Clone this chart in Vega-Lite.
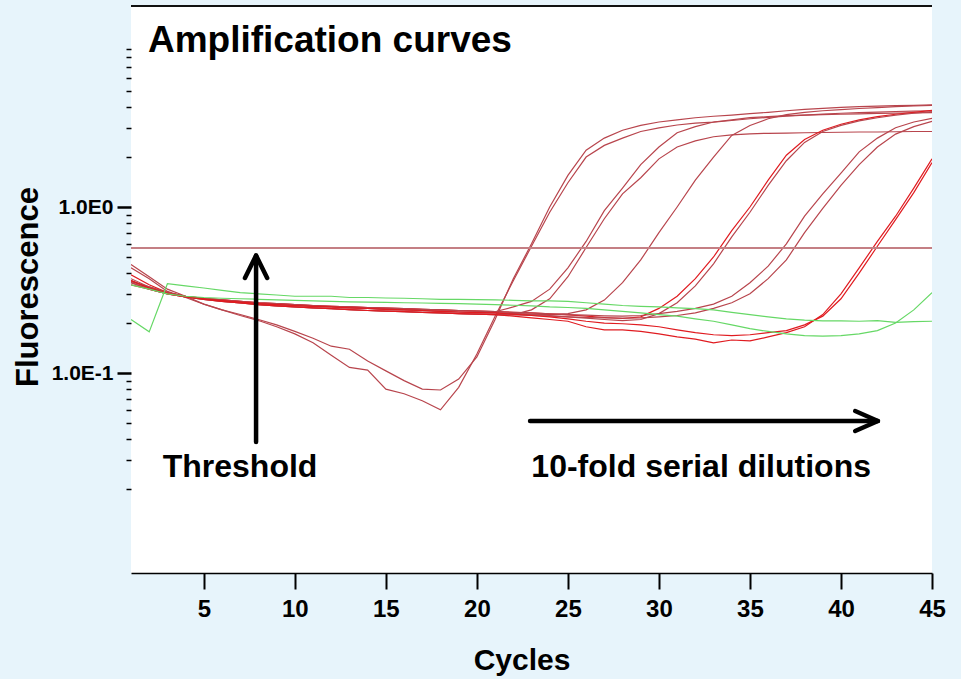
{
"$schema":"https://vega.github.io/schema/vega-lite/v6.json",
"width":801,"height":567,
"autosize":{"type":"none"},
"padding":{"left":131,"top":6,"right":29,"bottom":106},
"background":"#e7f4fb",
"config":{"view":{"fill":"white","stroke":null},"font":"Liberation Sans"},
"datasets":{
"curves":[
{"s":"A1","c":1,"v":0.45},{"s":"A1","c":2,"v":0.38},{"s":"A1","c":3,"v":0.32},{"s":"A1","c":4,"v":0.29},{"s":"A1","c":5,"v":0.26},{"s":"A1","c":6,"v":0.24},{"s":"A1","c":7,"v":0.225},{"s":"A1","c":8,"v":0.21},{"s":"A1","c":9,"v":0.195},{"s":"A1","c":10,"v":0.178},{"s":"A1","c":11,"v":0.162},{"s":"A1","c":12,"v":0.145},{"s":"A1","c":13,"v":0.139},{"s":"A1","c":14,"v":0.118},{"s":"A1","c":15,"v":0.103},{"s":"A1","c":16,"v":0.09},{"s":"A1","c":17,"v":0.08},{"s":"A1","c":18,"v":0.079},{"s":"A1","c":19,"v":0.092},{"s":"A1","c":20,"v":0.125},{"s":"A1","c":21,"v":0.21},{"s":"A1","c":22,"v":0.37},{"s":"A1","c":23,"v":0.6},{"s":"A1","c":24,"v":1.0},{"s":"A1","c":25,"v":1.55},{"s":"A1","c":26,"v":2.2},{"s":"A1","c":27,"v":2.6},{"s":"A1","c":28,"v":2.9},{"s":"A1","c":29,"v":3.1},{"s":"A1","c":30,"v":3.25},{"s":"A1","c":31,"v":3.35},{"s":"A1","c":32,"v":3.45},{"s":"A1","c":33,"v":3.52},{"s":"A1","c":34,"v":3.58},{"s":"A1","c":35,"v":3.65},{"s":"A1","c":36,"v":3.72},{"s":"A1","c":37,"v":3.8},{"s":"A1","c":38,"v":3.87},{"s":"A1","c":39,"v":3.93},{"s":"A1","c":40,"v":3.98},{"s":"A1","c":41,"v":4.02},{"s":"A1","c":42,"v":4.05},{"s":"A1","c":43,"v":4.08},{"s":"A1","c":44,"v":4.1},{"s":"A1","c":45,"v":4.12},
{"s":"A2","c":1,"v":0.43},{"s":"A2","c":2,"v":0.37},{"s":"A2","c":3,"v":0.31},{"s":"A2","c":4,"v":0.285},{"s":"A2","c":5,"v":0.26},{"s":"A2","c":6,"v":0.24},{"s":"A2","c":7,"v":0.222},{"s":"A2","c":8,"v":0.207},{"s":"A2","c":9,"v":0.19},{"s":"A2","c":10,"v":0.172},{"s":"A2","c":11,"v":0.152},{"s":"A2","c":12,"v":0.128},{"s":"A2","c":13,"v":0.108},{"s":"A2","c":14,"v":0.104},{"s":"A2","c":15,"v":0.08},{"s":"A2","c":16,"v":0.075},{"s":"A2","c":17,"v":0.068},{"s":"A2","c":18,"v":0.06},{"s":"A2","c":19,"v":0.082},{"s":"A2","c":20,"v":0.13},{"s":"A2","c":21,"v":0.22},{"s":"A2","c":22,"v":0.36},{"s":"A2","c":23,"v":0.58},{"s":"A2","c":24,"v":0.93},{"s":"A2","c":25,"v":1.4},{"s":"A2","c":26,"v":2.0},{"s":"A2","c":27,"v":2.35},{"s":"A2","c":28,"v":2.6},{"s":"A2","c":29,"v":2.85},{"s":"A2","c":30,"v":3.0},{"s":"A2","c":31,"v":3.12},{"s":"A2","c":32,"v":3.2},{"s":"A2","c":33,"v":3.25},{"s":"A2","c":34,"v":3.32},{"s":"A2","c":35,"v":3.4},{"s":"A2","c":36,"v":3.47},{"s":"A2","c":37,"v":3.53},{"s":"A2","c":38,"v":3.58},{"s":"A2","c":39,"v":3.63},{"s":"A2","c":40,"v":3.67},{"s":"A2","c":41,"v":3.7},{"s":"A2","c":42,"v":3.73},{"s":"A2","c":43,"v":3.76},{"s":"A2","c":44,"v":3.78},{"s":"A2","c":45,"v":3.8},
{"s":"B1","c":1,"v":0.37},{"s":"B1","c":2,"v":0.33},{"s":"B1","c":3,"v":0.305},{"s":"B1","c":4,"v":0.29},{"s":"B1","c":5,"v":0.282},{"s":"B1","c":6,"v":0.276},{"s":"B1","c":7,"v":0.27},{"s":"B1","c":8,"v":0.265},{"s":"B1","c":9,"v":0.262},{"s":"B1","c":10,"v":0.258},{"s":"B1","c":11,"v":0.255},{"s":"B1","c":12,"v":0.252},{"s":"B1","c":13,"v":0.25},{"s":"B1","c":14,"v":0.248},{"s":"B1","c":15,"v":0.246},{"s":"B1","c":16,"v":0.244},{"s":"B1","c":17,"v":0.242},{"s":"B1","c":18,"v":0.24},{"s":"B1","c":19,"v":0.238},{"s":"B1","c":20,"v":0.236},{"s":"B1","c":21,"v":0.234},{"s":"B1","c":22,"v":0.25},{"s":"B1","c":23,"v":0.27},{"s":"B1","c":24,"v":0.32},{"s":"B1","c":25,"v":0.43},{"s":"B1","c":26,"v":0.62},{"s":"B1","c":27,"v":0.95},{"s":"B1","c":28,"v":1.3},{"s":"B1","c":29,"v":1.8},{"s":"B1","c":30,"v":2.3},{"s":"B1","c":31,"v":2.8},{"s":"B1","c":32,"v":3.05},{"s":"B1","c":33,"v":3.25},{"s":"B1","c":34,"v":3.35},{"s":"B1","c":35,"v":3.45},{"s":"B1","c":36,"v":3.5},{"s":"B1","c":37,"v":3.55},{"s":"B1","c":38,"v":3.58},{"s":"B1","c":39,"v":3.6},{"s":"B1","c":40,"v":3.62},{"s":"B1","c":41,"v":3.64},{"s":"B1","c":42,"v":3.66},{"s":"B1","c":43,"v":3.68},{"s":"B1","c":44,"v":3.69},{"s":"B1","c":45,"v":3.7},
{"s":"B2","c":1,"v":0.35},{"s":"B2","c":2,"v":0.32},{"s":"B2","c":3,"v":0.3},{"s":"B2","c":4,"v":0.287},{"s":"B2","c":5,"v":0.278},{"s":"B2","c":6,"v":0.27},{"s":"B2","c":7,"v":0.264},{"s":"B2","c":8,"v":0.258},{"s":"B2","c":9,"v":0.254},{"s":"B2","c":10,"v":0.25},{"s":"B2","c":11,"v":0.247},{"s":"B2","c":12,"v":0.244},{"s":"B2","c":13,"v":0.241},{"s":"B2","c":14,"v":0.238},{"s":"B2","c":15,"v":0.236},{"s":"B2","c":16,"v":0.234},{"s":"B2","c":17,"v":0.232},{"s":"B2","c":18,"v":0.23},{"s":"B2","c":19,"v":0.228},{"s":"B2","c":20,"v":0.226},{"s":"B2","c":21,"v":0.225},{"s":"B2","c":22,"v":0.225},{"s":"B2","c":23,"v":0.24},{"s":"B2","c":24,"v":0.28},{"s":"B2","c":25,"v":0.38},{"s":"B2","c":26,"v":0.57},{"s":"B2","c":27,"v":0.85},{"s":"B2","c":28,"v":1.2},{"s":"B2","c":29,"v":1.5},{"s":"B2","c":30,"v":1.95},{"s":"B2","c":31,"v":2.3},{"s":"B2","c":32,"v":2.5},{"s":"B2","c":33,"v":2.65},{"s":"B2","c":34,"v":2.72},{"s":"B2","c":35,"v":2.76},{"s":"B2","c":36,"v":2.78},{"s":"B2","c":37,"v":2.79},{"s":"B2","c":38,"v":2.8},{"s":"B2","c":39,"v":2.81},{"s":"B2","c":40,"v":2.82},{"s":"B2","c":41,"v":2.83},{"s":"B2","c":42,"v":2.83},{"s":"B2","c":43,"v":2.84},{"s":"B2","c":44,"v":2.85},{"s":"B2","c":45,"v":2.85},
{"s":"C","c":1,"v":0.36},{"s":"C","c":2,"v":0.325},{"s":"C","c":3,"v":0.302},{"s":"C","c":4,"v":0.288},{"s":"C","c":5,"v":0.28},{"s":"C","c":6,"v":0.273},{"s":"C","c":7,"v":0.267},{"s":"C","c":8,"v":0.262},{"s":"C","c":9,"v":0.258},{"s":"C","c":10,"v":0.255},{"s":"C","c":11,"v":0.252},{"s":"C","c":12,"v":0.25},{"s":"C","c":13,"v":0.247},{"s":"C","c":14,"v":0.245},{"s":"C","c":15,"v":0.242},{"s":"C","c":16,"v":0.24},{"s":"C","c":17,"v":0.238},{"s":"C","c":18,"v":0.235},{"s":"C","c":19,"v":0.233},{"s":"C","c":20,"v":0.231},{"s":"C","c":21,"v":0.23},{"s":"C","c":22,"v":0.228},{"s":"C","c":23,"v":0.226},{"s":"C","c":24,"v":0.225},{"s":"C","c":25,"v":0.228},{"s":"C","c":26,"v":0.24},{"s":"C","c":27,"v":0.275},{"s":"C","c":28,"v":0.35},{"s":"C","c":29,"v":0.48},{"s":"C","c":30,"v":0.7},{"s":"C","c":31,"v":1.0},{"s":"C","c":32,"v":1.45},{"s":"C","c":33,"v":2.0},{"s":"C","c":34,"v":2.7},{"s":"C","c":35,"v":3.1},{"s":"C","c":36,"v":3.4},{"s":"C","c":37,"v":3.6},{"s":"C","c":38,"v":3.72},{"s":"C","c":39,"v":3.8},{"s":"C","c":40,"v":3.86},{"s":"C","c":41,"v":3.92},{"s":"C","c":42,"v":3.97},{"s":"C","c":43,"v":4.02},{"s":"C","c":44,"v":4.06},{"s":"C","c":45,"v":4.1},
{"s":"D1","c":1,"v":0.39},{"s":"D1","c":2,"v":0.34},{"s":"D1","c":3,"v":0.305},{"s":"D1","c":4,"v":0.29},{"s":"D1","c":5,"v":0.282},{"s":"D1","c":6,"v":0.276},{"s":"D1","c":7,"v":0.27},{"s":"D1","c":8,"v":0.265},{"s":"D1","c":9,"v":0.262},{"s":"D1","c":10,"v":0.258},{"s":"D1","c":11,"v":0.255},{"s":"D1","c":12,"v":0.252},{"s":"D1","c":13,"v":0.25},{"s":"D1","c":14,"v":0.248},{"s":"D1","c":15,"v":0.246},{"s":"D1","c":16,"v":0.244},{"s":"D1","c":17,"v":0.242},{"s":"D1","c":18,"v":0.24},{"s":"D1","c":19,"v":0.238},{"s":"D1","c":20,"v":0.236},{"s":"D1","c":21,"v":0.234},{"s":"D1","c":22,"v":0.232},{"s":"D1","c":23,"v":0.23},{"s":"D1","c":24,"v":0.227},{"s":"D1","c":25,"v":0.224},{"s":"D1","c":26,"v":0.22},{"s":"D1","c":27,"v":0.216},{"s":"D1","c":28,"v":0.213},{"s":"D1","c":29,"v":0.218},{"s":"D1","c":30,"v":0.245},{"s":"D1","c":31,"v":0.29},{"s":"D1","c":32,"v":0.37},{"s":"D1","c":33,"v":0.5},{"s":"D1","c":34,"v":0.72},{"s":"D1","c":35,"v":1.0},{"s":"D1","c":36,"v":1.45},{"s":"D1","c":37,"v":2.05},{"s":"D1","c":38,"v":2.55},{"s":"D1","c":39,"v":2.9},{"s":"D1","c":40,"v":3.15},{"s":"D1","c":41,"v":3.35},{"s":"D1","c":42,"v":3.5},{"s":"D1","c":43,"v":3.62},{"s":"D1","c":44,"v":3.72},{"s":"D1","c":45,"v":3.82},
{"s":"D2","c":1,"v":0.36},{"s":"D2","c":2,"v":0.325},{"s":"D2","c":3,"v":0.302},{"s":"D2","c":4,"v":0.288},{"s":"D2","c":5,"v":0.28},{"s":"D2","c":6,"v":0.273},{"s":"D2","c":7,"v":0.267},{"s":"D2","c":8,"v":0.262},{"s":"D2","c":9,"v":0.258},{"s":"D2","c":10,"v":0.255},{"s":"D2","c":11,"v":0.252},{"s":"D2","c":12,"v":0.25},{"s":"D2","c":13,"v":0.247},{"s":"D2","c":14,"v":0.245},{"s":"D2","c":15,"v":0.242},{"s":"D2","c":16,"v":0.24},{"s":"D2","c":17,"v":0.238},{"s":"D2","c":18,"v":0.235},{"s":"D2","c":19,"v":0.233},{"s":"D2","c":20,"v":0.231},{"s":"D2","c":21,"v":0.23},{"s":"D2","c":22,"v":0.228},{"s":"D2","c":23,"v":0.225},{"s":"D2","c":24,"v":0.222},{"s":"D2","c":25,"v":0.218},{"s":"D2","c":26,"v":0.214},{"s":"D2","c":27,"v":0.21},{"s":"D2","c":28,"v":0.207},{"s":"D2","c":29,"v":0.21},{"s":"D2","c":30,"v":0.228},{"s":"D2","c":31,"v":0.265},{"s":"D2","c":32,"v":0.335},{"s":"D2","c":33,"v":0.455},{"s":"D2","c":34,"v":0.66},{"s":"D2","c":35,"v":0.93},{"s":"D2","c":36,"v":1.35},{"s":"D2","c":37,"v":1.9},{"s":"D2","c":38,"v":2.45},{"s":"D2","c":39,"v":2.85},{"s":"D2","c":40,"v":3.1},{"s":"D2","c":41,"v":3.3},{"s":"D2","c":42,"v":3.45},{"s":"D2","c":43,"v":3.58},{"s":"D2","c":44,"v":3.67},{"s":"D2","c":45,"v":3.75},
{"s":"E1","c":1,"v":0.355},{"s":"E1","c":2,"v":0.33},{"s":"E1","c":3,"v":0.305},{"s":"E1","c":4,"v":0.29},{"s":"E1","c":5,"v":0.282},{"s":"E1","c":6,"v":0.276},{"s":"E1","c":7,"v":0.27},{"s":"E1","c":8,"v":0.265},{"s":"E1","c":9,"v":0.262},{"s":"E1","c":10,"v":0.258},{"s":"E1","c":11,"v":0.255},{"s":"E1","c":12,"v":0.252},{"s":"E1","c":13,"v":0.25},{"s":"E1","c":14,"v":0.248},{"s":"E1","c":15,"v":0.246},{"s":"E1","c":16,"v":0.244},{"s":"E1","c":17,"v":0.242},{"s":"E1","c":18,"v":0.24},{"s":"E1","c":19,"v":0.238},{"s":"E1","c":20,"v":0.236},{"s":"E1","c":21,"v":0.234},{"s":"E1","c":22,"v":0.232},{"s":"E1","c":23,"v":0.23},{"s":"E1","c":24,"v":0.227},{"s":"E1","c":25,"v":0.225},{"s":"E1","c":26,"v":0.223},{"s":"E1","c":27,"v":0.221},{"s":"E1","c":28,"v":0.22},{"s":"E1","c":29,"v":0.222},{"s":"E1","c":30,"v":0.228},{"s":"E1","c":31,"v":0.235},{"s":"E1","c":32,"v":0.245},{"s":"E1","c":33,"v":0.26},{"s":"E1","c":34,"v":0.29},{"s":"E1","c":35,"v":0.35},{"s":"E1","c":36,"v":0.44},{"s":"E1","c":37,"v":0.6},{"s":"E1","c":38,"v":0.88},{"s":"E1","c":39,"v":1.2},{"s":"E1","c":40,"v":1.6},{"s":"E1","c":41,"v":2.15},{"s":"E1","c":42,"v":2.6},{"s":"E1","c":43,"v":3.0},{"s":"E1","c":44,"v":3.25},{"s":"E1","c":45,"v":3.42},
{"s":"E2","c":1,"v":0.35},{"s":"E2","c":2,"v":0.32},{"s":"E2","c":3,"v":0.3},{"s":"E2","c":4,"v":0.287},{"s":"E2","c":5,"v":0.278},{"s":"E2","c":6,"v":0.27},{"s":"E2","c":7,"v":0.264},{"s":"E2","c":8,"v":0.258},{"s":"E2","c":9,"v":0.254},{"s":"E2","c":10,"v":0.25},{"s":"E2","c":11,"v":0.247},{"s":"E2","c":12,"v":0.244},{"s":"E2","c":13,"v":0.241},{"s":"E2","c":14,"v":0.238},{"s":"E2","c":15,"v":0.236},{"s":"E2","c":16,"v":0.234},{"s":"E2","c":17,"v":0.232},{"s":"E2","c":18,"v":0.23},{"s":"E2","c":19,"v":0.228},{"s":"E2","c":20,"v":0.226},{"s":"E2","c":21,"v":0.225},{"s":"E2","c":22,"v":0.224},{"s":"E2","c":23,"v":0.222},{"s":"E2","c":24,"v":0.22},{"s":"E2","c":25,"v":0.218},{"s":"E2","c":26,"v":0.216},{"s":"E2","c":27,"v":0.215},{"s":"E2","c":28,"v":0.214},{"s":"E2","c":29,"v":0.215},{"s":"E2","c":30,"v":0.218},{"s":"E2","c":31,"v":0.222},{"s":"E2","c":32,"v":0.23},{"s":"E2","c":33,"v":0.245},{"s":"E2","c":34,"v":0.265},{"s":"E2","c":35,"v":0.3},{"s":"E2","c":36,"v":0.37},{"s":"E2","c":37,"v":0.48},{"s":"E2","c":38,"v":0.7},{"s":"E2","c":39,"v":0.98},{"s":"E2","c":40,"v":1.35},{"s":"E2","c":41,"v":1.8},{"s":"E2","c":42,"v":2.3},{"s":"E2","c":43,"v":2.75},{"s":"E2","c":44,"v":3.05},{"s":"E2","c":45,"v":3.28},
{"s":"F1","c":1,"v":0.34},{"s":"F1","c":2,"v":0.32},{"s":"F1","c":3,"v":0.3},{"s":"F1","c":4,"v":0.287},{"s":"F1","c":5,"v":0.278},{"s":"F1","c":6,"v":0.27},{"s":"F1","c":7,"v":0.264},{"s":"F1","c":8,"v":0.258},{"s":"F1","c":9,"v":0.254},{"s":"F1","c":10,"v":0.25},{"s":"F1","c":11,"v":0.247},{"s":"F1","c":12,"v":0.244},{"s":"F1","c":13,"v":0.241},{"s":"F1","c":14,"v":0.238},{"s":"F1","c":15,"v":0.236},{"s":"F1","c":16,"v":0.234},{"s":"F1","c":17,"v":0.232},{"s":"F1","c":18,"v":0.23},{"s":"F1","c":19,"v":0.228},{"s":"F1","c":20,"v":0.226},{"s":"F1","c":21,"v":0.225},{"s":"F1","c":22,"v":0.22},{"s":"F1","c":23,"v":0.215},{"s":"F1","c":24,"v":0.21},{"s":"F1","c":25,"v":0.205},{"s":"F1","c":26,"v":0.19},{"s":"F1","c":27,"v":0.182},{"s":"F1","c":28,"v":0.182},{"s":"F1","c":29,"v":0.178},{"s":"F1","c":30,"v":0.172},{"s":"F1","c":31,"v":0.165},{"s":"F1","c":32,"v":0.16},{"s":"F1","c":33,"v":0.152},{"s":"F1","c":34,"v":0.158},{"s":"F1","c":35,"v":0.156},{"s":"F1","c":36,"v":0.165},{"s":"F1","c":37,"v":0.175},{"s":"F1","c":38,"v":0.19},{"s":"F1","c":39,"v":0.225},{"s":"F1","c":40,"v":0.3},{"s":"F1","c":41,"v":0.43},{"s":"F1","c":42,"v":0.62},{"s":"F1","c":43,"v":0.88},{"s":"F1","c":44,"v":1.3},{"s":"F1","c":45,"v":1.95},
{"s":"F2","c":1,"v":0.36},{"s":"F2","c":2,"v":0.325},{"s":"F2","c":3,"v":0.302},{"s":"F2","c":4,"v":0.288},{"s":"F2","c":5,"v":0.28},{"s":"F2","c":6,"v":0.273},{"s":"F2","c":7,"v":0.267},{"s":"F2","c":8,"v":0.262},{"s":"F2","c":9,"v":0.258},{"s":"F2","c":10,"v":0.255},{"s":"F2","c":11,"v":0.252},{"s":"F2","c":12,"v":0.25},{"s":"F2","c":13,"v":0.247},{"s":"F2","c":14,"v":0.245},{"s":"F2","c":15,"v":0.242},{"s":"F2","c":16,"v":0.24},{"s":"F2","c":17,"v":0.238},{"s":"F2","c":18,"v":0.235},{"s":"F2","c":19,"v":0.233},{"s":"F2","c":20,"v":0.231},{"s":"F2","c":21,"v":0.23},{"s":"F2","c":22,"v":0.226},{"s":"F2","c":23,"v":0.222},{"s":"F2","c":24,"v":0.218},{"s":"F2","c":25,"v":0.212},{"s":"F2","c":26,"v":0.205},{"s":"F2","c":27,"v":0.2},{"s":"F2","c":28,"v":0.198},{"s":"F2","c":29,"v":0.195},{"s":"F2","c":30,"v":0.19},{"s":"F2","c":31,"v":0.182},{"s":"F2","c":32,"v":0.175},{"s":"F2","c":33,"v":0.17},{"s":"F2","c":34,"v":0.168},{"s":"F2","c":35,"v":0.17},{"s":"F2","c":36,"v":0.175},{"s":"F2","c":37,"v":0.18},{"s":"F2","c":38,"v":0.195},{"s":"F2","c":39,"v":0.22},{"s":"F2","c":40,"v":0.28},{"s":"F2","c":41,"v":0.4},{"s":"F2","c":42,"v":0.58},{"s":"F2","c":43,"v":0.84},{"s":"F2","c":44,"v":1.22},{"s":"F2","c":45,"v":1.85},
{"s":"G1","c":1,"v":0.21},{"s":"G1","c":2,"v":0.177},{"s":"G1","c":3,"v":0.345},{"s":"G1","c":4,"v":0.335},{"s":"G1","c":5,"v":0.325},{"s":"G1","c":6,"v":0.315},{"s":"G1","c":7,"v":0.305},{"s":"G1","c":8,"v":0.3},{"s":"G1","c":9,"v":0.295},{"s":"G1","c":10,"v":0.29},{"s":"G1","c":11,"v":0.29},{"s":"G1","c":12,"v":0.29},{"s":"G1","c":13,"v":0.285},{"s":"G1","c":14,"v":0.285},{"s":"G1","c":15,"v":0.283},{"s":"G1","c":16,"v":0.282},{"s":"G1","c":17,"v":0.28},{"s":"G1","c":18,"v":0.278},{"s":"G1","c":19,"v":0.278},{"s":"G1","c":20,"v":0.277},{"s":"G1","c":21,"v":0.276},{"s":"G1","c":22,"v":0.274},{"s":"G1","c":23,"v":0.272},{"s":"G1","c":24,"v":0.272},{"s":"G1","c":25,"v":0.27},{"s":"G1","c":26,"v":0.265},{"s":"G1","c":27,"v":0.26},{"s":"G1","c":28,"v":0.255},{"s":"G1","c":29,"v":0.252},{"s":"G1","c":30,"v":0.25},{"s":"G1","c":31,"v":0.247},{"s":"G1","c":32,"v":0.244},{"s":"G1","c":33,"v":0.24},{"s":"G1","c":34,"v":0.232},{"s":"G1","c":35,"v":0.225},{"s":"G1","c":36,"v":0.218},{"s":"G1","c":37,"v":0.212},{"s":"G1","c":38,"v":0.208},{"s":"G1","c":39,"v":0.206},{"s":"G1","c":40,"v":0.206},{"s":"G1","c":41,"v":0.205},{"s":"G1","c":42,"v":0.207},{"s":"G1","c":43,"v":0.202},{"s":"G1","c":44,"v":0.204},{"s":"G1","c":45,"v":0.205},
{"s":"G2","c":1,"v":0.34},{"s":"G2","c":2,"v":0.32},{"s":"G2","c":3,"v":0.3},{"s":"G2","c":4,"v":0.29},{"s":"G2","c":5,"v":0.285},{"s":"G2","c":6,"v":0.282},{"s":"G2","c":7,"v":0.28},{"s":"G2","c":8,"v":0.278},{"s":"G2","c":9,"v":0.276},{"s":"G2","c":10,"v":0.274},{"s":"G2","c":11,"v":0.272},{"s":"G2","c":12,"v":0.27},{"s":"G2","c":13,"v":0.268},{"s":"G2","c":14,"v":0.267},{"s":"G2","c":15,"v":0.266},{"s":"G2","c":16,"v":0.265},{"s":"G2","c":17,"v":0.264},{"s":"G2","c":18,"v":0.263},{"s":"G2","c":19,"v":0.262},{"s":"G2","c":20,"v":0.26},{"s":"G2","c":21,"v":0.258},{"s":"G2","c":22,"v":0.256},{"s":"G2","c":23,"v":0.254},{"s":"G2","c":24,"v":0.25},{"s":"G2","c":25,"v":0.248},{"s":"G2","c":26,"v":0.245},{"s":"G2","c":27,"v":0.24},{"s":"G2","c":28,"v":0.235},{"s":"G2","c":29,"v":0.23},{"s":"G2","c":30,"v":0.225},{"s":"G2","c":31,"v":0.22},{"s":"G2","c":32,"v":0.212},{"s":"G2","c":33,"v":0.205},{"s":"G2","c":34,"v":0.195},{"s":"G2","c":35,"v":0.185},{"s":"G2","c":36,"v":0.178},{"s":"G2","c":37,"v":0.172},{"s":"G2","c":38,"v":0.168},{"s":"G2","c":39,"v":0.167},{"s":"G2","c":40,"v":0.168},{"s":"G2","c":41,"v":0.172},{"s":"G2","c":42,"v":0.18},{"s":"G2","c":43,"v":0.2},{"s":"G2","c":44,"v":0.24},{"s":"G2","c":45,"v":0.305}
],
"arrows":[
{"a":"vs","o":1,"c":7.87,"v":0.0384},{"a":"vs","o":2,"c":7.87,"v":0.51},
{"a":"vh","o":1,"c":7.26,"v":0.3735},{"a":"vh","o":2,"c":7.87,"v":0.51},{"a":"vh","o":3,"c":8.48,"v":0.3735},
{"a":"hs","o":1,"c":22.92,"v":0.0514},{"a":"hs","o":2,"c":42.03,"v":0.0514},
{"a":"hh","o":1,"c":40.78,"v":0.059},{"a":"hh","o":2,"c":42.03,"v":0.0514},{"a":"hh","o":3,"c":40.78,"v":0.04473}
],
"heading":[{"t":"Amplification curves","c":1.93,"v":8.59}],
"notes":[{"t":"Threshold","c":6.99,"v":0.0235},{"t":"10-fold serial dilutions","c":32.32,"v":0.0235}]
},
"layer":[
{"data":{"name":"curves"},
 "mark":{"type":"line","strokeWidth":1.2,"clip":true},
 "encoding":{
  "x":{"field":"c","type":"quantitative","scale":{"domain":[1,45],"nice":false,"zero":false},
   "axis":{"values":[5,10,15,20,25,30,35,40,45],"title":"Cycles","titleFontSize":30,"titleFontWeight":"bold","titleColor":"black","titleX":390.5,"titleY":96,"titleAlign":"center","titleBaseline":"alphabetic","titleAnchor":"start",
    "labelFontSize":24,"labelFontWeight":"bold","labelColor":"black","labelPadding":8,"labelFlush":false,"labelOverlap":false,"labelBound":false,
    "tickSize":16,"tickWidth":2,"tickColor":"black","domainColor":"black","domainWidth":1.3,"grid":false}},
  "y":{"field":"v","type":"quantitative","scale":{"type":"log","domain":[0.00624,16.25],"nice":false},
   "axis":{"values":[0.02,0.03,0.04,0.05,0.06,0.07,0.08,0.09,0.1,0.2,0.3,0.4,0.5,0.6,0.7,0.8,0.9,1,2,3,4,5,6,7,8,9],
    "labelExpr":"datum.value == 1 ? '1.0E0' : (datum.value == 0.1 ? '1.0E-1' : '')",
    "title":"Fluorescence","titleFontSize":31,"titleFontWeight":"bold","titleColor":"black","titleAngle":-90,"titleX":-94,"titleY":280.5,"titleAlign":"center","titleBaseline":"alphabetic","titleAnchor":"start",
    "labelFontSize":21,"labelFontWeight":"bold","labelColor":"black","labelPadding":4,"labelOverlap":false,"labelFlush":false,"labelBound":false,
    "tickSize":{"condition":{"test":"datum.value == 1 || datum.value == 0.1","value":14},"value":5},
    "tickWidth":{"condition":{"test":"datum.value == 1 || datum.value == 0.1","value":2.5},"value":1.5},
    "tickColor":"black","domain":false,"grid":false}},
  "color":{"field":"s","type":"nominal","legend":null,
   "scale":{"domain":["A1","A2","B1","B2","C","D1","D2","E1","E2","F1","F2","G1","G2"],
    "range":["#b8454d","#b8454d","#b8454d","#b8454d","#b8454d","#e01b20","#b8454d","#b8454d","#b8454d","#e01b20","#e01b20","#66d866","#66d866"]}}
 }},
{"data":{"values":[{"v":0.566}]},
 "mark":{"type":"rule","color":"#c47f84","strokeWidth":2},
 "encoding":{"y":{"field":"v","type":"quantitative","scale":{"type":"log","domain":[0.00624,16.25],"nice":false}}}},
{"data":{"values":[{"v":16.25}]},
 "mark":{"type":"rule","color":"#111111","strokeWidth":2},
 "encoding":{"y":{"field":"v","type":"quantitative","scale":{"type":"log","domain":[0.00624,16.25],"nice":false}}}},
{"data":{"name":"arrows"},
 "mark":{"type":"line","color":"black","strokeWidth":4.5,"strokeCap":"round","strokeJoin":"round"},
 "encoding":{
  "x":{"field":"c","type":"quantitative","scale":{"domain":[1,45],"nice":false,"zero":false}},
  "y":{"field":"v","type":"quantitative","scale":{"type":"log","domain":[0.00624,16.25],"nice":false}},
  "detail":{"field":"a"},
  "order":{"field":"o"}}},
{"data":{"name":"heading"},
 "mark":{"type":"text","align":"left","baseline":"alphabetic","fontSize":37,"fontWeight":"bold","color":"black"},
 "encoding":{
  "x":{"field":"c","type":"quantitative","scale":{"domain":[1,45],"nice":false,"zero":false}},
  "y":{"field":"v","type":"quantitative","scale":{"type":"log","domain":[0.00624,16.25],"nice":false}},
  "text":{"field":"t"}}},
{"data":{"name":"notes"},
 "mark":{"type":"text","align":"center","baseline":"alphabetic","fontSize":32,"fontWeight":"bold","color":"black"},
 "encoding":{
  "x":{"field":"c","type":"quantitative","scale":{"domain":[1,45],"nice":false,"zero":false}},
  "y":{"field":"v","type":"quantitative","scale":{"type":"log","domain":[0.00624,16.25],"nice":false}},
  "text":{"field":"t"}}}
]
}
